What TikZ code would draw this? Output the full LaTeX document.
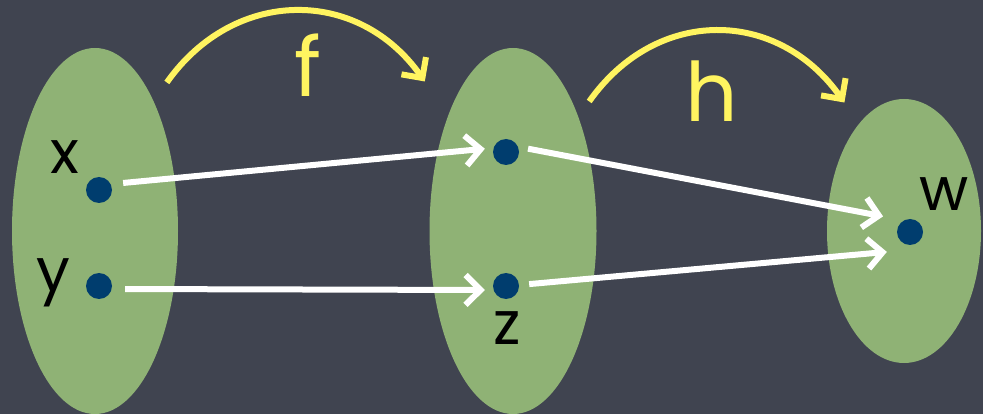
\documentclass[tikz,border=0pt]{standalone}
\usepackage{fontspec}
\setmainfont{Poppins}
\usepackage{tikz}
\usetikzlibrary{positioning,calc}
\usetikzlibrary{arrows.meta,shapes.geometric}
\definecolor{Slate}{RGB}{64,68,80}
\definecolor{SetGreen}{RGB}{143,178,117}
\definecolor{DotBlue}{RGB}{0,61,110}
\definecolor{ChalkYellow}{RGB}{255,244,96}
\tikzset{
  set/.style={ellipse,fill=SetGreen,inner sep=0pt},
  pt/.style={circle,fill=DotBlue,inner sep=0pt,minimum size=26pt},
  lbl/.style={inner sep=0pt,font=\fontsize{60}{62}\selectfont},
  fname/.style={inner sep=0pt,text=ChalkYellow,font=\fontsize{82}{86}\selectfont},
  map/.style={draw=white,line width=6pt,-{Straight Barb[length=15pt,width=30pt]}},
  fun/.style={draw=ChalkYellow,line width=6pt,-{Straight Barb[length=15pt,width=30pt]}},
}
\begin{document}
\begin{tikzpicture}[x=1pt,y=-1pt]
\fill[Slate] (0,0) rectangle (983,414);
\useasboundingbox (0,0) rectangle (983,414);
\node[set,minimum width=166pt,minimum height=366pt] (A) at (95,231) {};
\node[set,minimum width=167pt,minimum height=366pt] (B) at (513,231) {};
\node[set,minimum width=154pt,minimum height=264pt] (C) at (904,231) {};
\node[pt] (xd) at (99,190) {};
\node[pt] (yd) at (99,286) {};
\node[pt] (zt) at (506,152) {};
\node[pt] (zb) at (506,286) {};
\node[pt] (wd) at (910,232) {};
\node[lbl] (xl) at (65,157) {x};
\node[lbl] (yl) at (53,283) {y};
\node[lbl] (zl) at (507,328) {z};
\node[lbl] (wl) at (944,194) {w};
\node[fname] (fl) at (308,65) {f};
\node[fname] (hl) at (712,91) {h};
\draw[map,shorten <=11pt,shorten >=8pt] ([yshift=6pt]xd.east) -- ([yshift=4pt]zt.west);
\draw[map,shorten <=13pt,shorten >=8pt] ([yshift=-3pt]yd.east) -- ([yshift=-4pt]zb.west);
\draw[map,shorten <=9pt,shorten >=14pt] ([yshift=5pt]zt.east) -- ([yshift=13pt]wd.west);
\draw[map,shorten <=10pt,shorten >=10pt] ([yshift=1pt]zb.east) -- ([yshift=-19pt]wd.west);
\draw[fun] ([shift={(13,-19)}]A.north east) .. controls +(67,-95) and +(-67,-95) .. ([shift={(-29,-20)}]B.north west);
\draw[fun] ([shift={(17,0)}]B.north east) .. controls +(67,-95) and +(-67,-95) .. ([shift={(-5,-35)}]C.north west);
\end{tikzpicture}
\end{document}
